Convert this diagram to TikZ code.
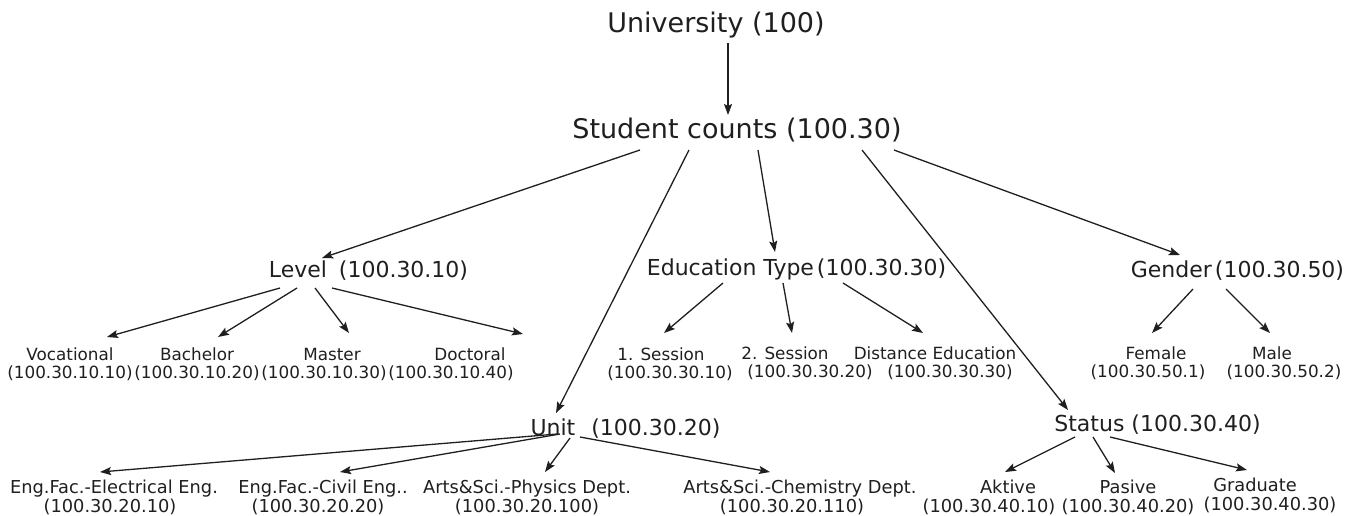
\documentclass[tikz,border=0pt]{standalone}
\usepackage{fontspec}
\setmainfont{DejaVu Sans}
\usetikzlibrary{arrows.meta}
\newcommand\twolines[2]{\begin{tabular}[t]{@{}c@{}}#1\\#2\end{tabular}}
\begin{document}
\begin{tikzpicture}[x=1pt,y=-1pt,
  every node/.style={inner sep=0pt, outer sep=0pt, text=black!88},
  topnode/.style={anchor=base, font=\fontsize{27}{32}\selectfont},
  midnode/.style={anchor=base, font=\fontsize{22}{26}\selectfont},
  leafa/.style={anchor=base, font=\fontsize{16.8}{18.5}\selectfont},
  leafb/.style={anchor=base, font=\fontsize{17.8}{19.5}\selectfont},
  arr/.style={draw=black!88, line width=1.3pt, -{Stealth[length=11pt,width=8pt,inset=2pt]}}]
\path[use as bounding box] (0,0) rectangle (1363,515);

% upper levels
\node[topnode] (uni) at (716,32) {University (100)};
\node[topnode] (stu) at (737,138) {Student counts (100.30)};
\node[midnode] (lev) at (368.5,277) {Level\hspace{12pt}(100.30.10)};
\node[midnode] (edu) at (796.5,275) {Education Type\hspace{3pt}(100.30.30)};
\node[midnode] (gen) at (1237.5,277) {Gender\hspace{3pt}(100.30.50)};
\node[midnode] (unit) at (625.5,435) {Unit\hspace{16pt}(100.30.20)};
\node[midnode] (sta) at (1157.5,431) {Status (100.30.40)};

% leaves row 1
\node[leafa] (voc) at (70,360) {\twolines{Vocational}{(100.30.10.10)}};
\node[leafa] (bac) at (197,360) {\twolines{Bachelor}{(100.30.10.20)}};
\node[leafa] (mas) at (324,360) {\twolines{\hspace*{16pt}Master}{(100.30.10.30)}};
\node[leafa] (doc) at (451,360) {\twolines{\hspace*{38pt}Doctoral}{(100.30.10.40)}};
\node[leafa] (se1) at (670,360) {\twolines{1. Session\hspace*{18pt}}{(100.30.30.10)}};
\node[leafa] (se2) at (810,359) {\twolines{2. Session\hspace*{50pt}}{(100.30.30.20)}};
\node[leafa] (dis) at (950,359) {\twolines{Distance Education\hspace*{30pt}}{(100.30.30.30)}};
\node[leafa] (fem) at (1148,359) {\twolines{\hspace*{16pt}Female}{(100.30.50.1)}};
\node[leafa] (mal) at (1284,359) {\twolines{Male\hspace*{24pt}}{(100.30.50.2)}};

% leaves row 2
\node[leafb] (ele) at (110,493) {\twolines{\hspace*{8pt}Eng.Fac.-Electrical Eng.}{(100.30.20.10)}};
\node[leafb] (civ) at (318,493) {\twolines{\hspace*{10pt}Eng.Fac.-Civil Eng..}{(100.30.20.20)}};
\node[leafb] (phy) at (527,493) {\twolines{Arts\&Sci.-Physics Dept.}{(100.30.20.100)}};
\node[leafb] (che) at (792,493) {\twolines{\hspace*{16pt}Arts\&Sci.-Chemistry Dept.}{(100.30.20.110)}};
\node[leafb] (akt) at (989,493) {\twolines{\hspace*{38pt}Aktive}{(100.30.40.10)}};
\node[leafb] (pas) at (1128,493) {\twolines{Pasive}{(100.30.40.20)}};
\node[leafb] (gra) at (1270,491) {\twolines{Graduate\hspace*{30pt}}{(100.30.40.30)}};

% connectors
\draw[arr] ([shift={(12,11)}]uni.base) -- ([shift={(-9,-23)}]stu.base);
\draw[arr] ([shift={(-97,12)}]stu.base) -- ([shift={(-46.5,-19)}]lev.base);
\draw[arr] ([shift={(-48,12)}]stu.base) -- ([shift={(-69.5,-22)}]unit.base);
\draw[arr] ([shift={(21,12)}]stu.base) -- ([shift={(-21.5,-23)}]edu.base);
\draw[arr] ([shift={(125,12)}]stu.base) -- ([shift={(-89.5,-21)}]sta.base);
\draw[arr] ([shift={(157,12)}]stu.base) -- ([shift={(-57.5,-22)}]gen.base);

\draw[arr] ([shift={(-88.5,11)}]lev.base) -- ([shift={(37,-23)}]voc.base);
\draw[arr] ([shift={(-71.5,11)}]lev.base) -- ([shift={(21,-23)}]bac.base);
\draw[arr] ([shift={(-53.5,11)}]lev.base) -- ([shift={(25,-27)}]mas.base);
\draw[arr] ([shift={(-36.5,11)}]lev.base) -- ([shift={(72,-26)}]doc.base);

\draw[arr] ([shift={(-73.5,8)}]edu.base) -- ([shift={(-6,-27)}]se1.base);
\draw[arr] ([shift={(-13.5,8)}]edu.base) -- ([shift={(-18,-26)}]se2.base);
\draw[arr] ([shift={(46.5,8)}]edu.base) -- ([shift={(-27,-26)}]dis.base);

\draw[arr] ([shift={(-44.5,12)}]gen.base) -- ([shift={(4,-26)}]fem.base);
\draw[arr] ([shift={(-11.5,12)}]gen.base) -- ([shift={(-14,-26)}]mal.base);

\draw[arr] ([shift={(-68.5,-1)}]unit.base) -- ([shift={(-10,-21)}]ele.base);
\draw[arr] ([shift={(-65.5,-1)}]unit.base) -- ([shift={(22,-21)}]civ.base);
\draw[arr] ([shift={(-55.5,3)}]unit.base) -- ([shift={(18,-21)}]phy.base);
\draw[arr] ([shift={(-45.5,2)}]unit.base) -- ([shift={(-22,-21)}]che.base);

\draw[arr] ([shift={(-82.5,6)}]sta.base) -- ([shift={(16,-21)}]akt.base);
\draw[arr] ([shift={(-64.5,6)}]sta.base) -- ([shift={(-13,-20)}]pas.base);
\draw[arr] ([shift={(-47.5,6)}]sta.base) -- ([shift={(-23,-21)}]gra.base);
\end{tikzpicture}
\end{document}
